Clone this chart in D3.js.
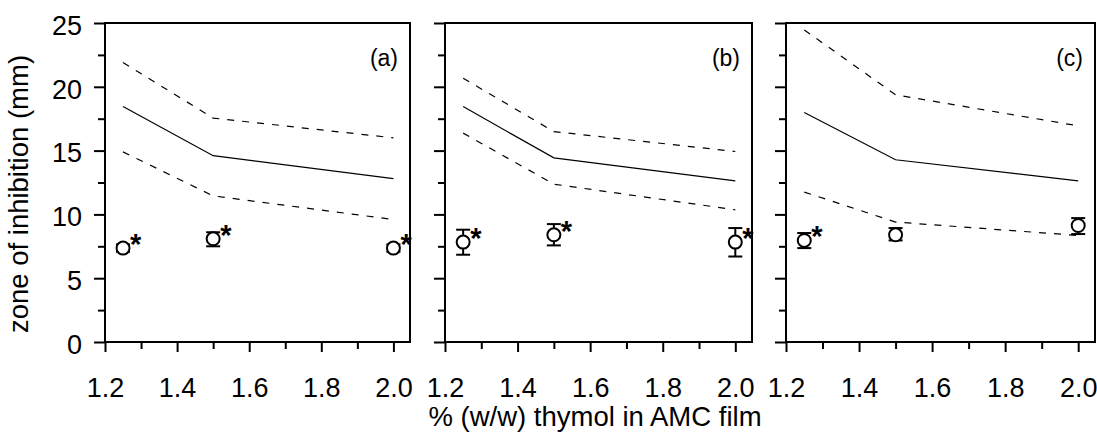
<!DOCTYPE html>
<html><head><meta charset="utf-8">
<script src="https://cdn.jsdelivr.net/npm/d3@7"></script>
<style>body{margin:0;background:#fff} svg text{font-family:"Liberation Sans",Arial,sans-serif;fill:#000}</style>
</head><body><svg id="chart" width="1097" height="437"></svg>
<script>
// ---- data ----
const xValues = [1.25, 1.5, 2.0];
const panelLabels = ["(a)", "(b)", "(c)"];
const xTickLabels = ["1.2", "1.4", "1.6", "1.8", "2.0"];
const yTickLabels = ["0", "5", "10", "15", "20", "25"];
const meanA = [18.45, 14.6, 12.8];
const upperA = [21.9, 17.55, 16.0];
const lowerA = [14.9, 11.45, 9.6];
const pointA = [7.36, 8.09, 7.36];
const errLowA = [7.07, 7.5, 7.07];
const errHighA = [7.65, 8.6, 7.65];
const starA = [true, true, true];
const meanB = [18.45, 14.43, 12.63];
const upperB = [20.67, 16.49, 14.93];
const lowerB = [16.37, 12.37, 10.36];
const pointB = [7.83, 8.4, 7.83];
const errLowB = [6.84, 7.57, 6.7];
const errHighB = [8.8, 9.24, 8.93];
const starB = [true, true, true];
const meanC = [17.98, 14.28, 12.63];
const upperC = [24.46, 19.37, 16.94];
const lowerC = [11.75, 9.4, 8.35];
const pointC = [7.96, 8.4, 9.13];
const errLowC = [7.36, 7.96, 8.46];
const errHighC = [8.54, 8.93, 9.71];
const starC = [true, false, false];

const panels = [
  {label: panelLabels[0], mean: meanA, upper: upperA, lower: lowerA, pt: pointA, lo: errLowA, hi: errHighA, star: starA, x0: 105, x1: 410},
  {label: panelLabels[1], mean: meanB, upper: upperB, lower: lowerB, pt: pointB, lo: errLowB, hi: errHighB, star: starB, x0: 445, x1: 752},
  {label: panelLabels[2], mean: meanC, upper: upperC, lower: lowerC, pt: pointC, lo: errLowC, hi: errHighC, star: starC, x0: 786, x1: 1095}
];

const svg = d3.select("#chart");
const plotTop = 23, plotBottom = 342;
const y = d3.scaleLinear().domain([0, 25]).range([plotBottom, plotTop]);

panels.forEach((p, i) => {
  const x = d3.scaleLinear().domain([1.2, 2.046]).range([p.x0, p.x1]);
  const g = svg.append("g");

  const yMinor = d3.axisLeft(y).tickValues([2.5, 7.5, 12.5, 17.5, 22.5]).tickSize(7).tickFormat("");
  const xMinor = d3.axisBottom(x).tickValues([1.3, 1.5, 1.7, 1.9]).tickSize(7).tickFormat("");
  g.append("g").attr("transform", `translate(${p.x0},0)`).call(yMinor);
  g.append("g").attr("transform", `translate(0,${plotBottom})`).call(xMinor);

  const yAxis = d3.axisLeft(y).tickValues([0,5,10,15,20,25]).tickSize(11).tickPadding(12)
      .tickFormat((d, k) => i === 0 ? yTickLabels[k] : "");
  const xAxis = d3.axisBottom(x).tickValues([1.2,1.4,1.6,1.8,2.0]).tickSize(10).tickPadding(26)
      .tickFormat((d, k) => xTickLabels[k]);
  const ya = g.append("g").attr("transform", `translate(${p.x0},0)`).call(yAxis);
  g.append("g").attr("transform", `translate(0,${plotBottom})`).call(xAxis);
  ya.selectAll(".tick text").attr("dy", "0.42em");
  g.selectAll(".domain").remove();
  g.selectAll(".tick line").attr("stroke", "#000").attr("stroke-width", 2);
  g.selectAll(".tick text").style("font-size", "27px");

  g.append("rect").attr("x", p.x0).attr("y", plotTop).attr("width", p.x1 - p.x0).attr("height", plotBottom - plotTop)
    .attr("fill", "none").attr("stroke", "#000").attr("stroke-width", 2);

  const line = d3.line().x((d, k) => x(xValues[k])).y(d => y(d));
  g.append("path").attr("d", line(p.mean)).attr("fill", "none").attr("stroke", "#000").attr("stroke-width", 1.2);
  g.append("path").attr("d", line(p.upper)).attr("fill", "none").attr("stroke", "#000").attr("stroke-width", 1.2).attr("stroke-dasharray", "7,8");
  g.append("path").attr("d", line(p.lower)).attr("fill", "none").attr("stroke", "#000").attr("stroke-width", 1.2).attr("stroke-dasharray", "7,8");

  xValues.forEach((xv, k) => {
    const cx = x(xv);
    g.append("line").attr("x1", cx).attr("x2", cx).attr("y1", y(p.lo[k])).attr("y2", y(p.hi[k])).attr("stroke", "#000").attr("stroke-width", 2);
    [p.lo[k], p.hi[k]].forEach(v => g.append("line").attr("x1", cx - 7).attr("x2", cx + 7).attr("y1", y(v)).attr("y2", y(v)).attr("stroke", "#000").attr("stroke-width", 2));
    g.append("circle").attr("cx", cx).attr("cy", y(p.pt[k])).attr("r", 6.5).attr("fill", "#fff").attr("stroke", "#000").attr("stroke-width", 2);
    if (p.star[k]) {
      g.append("text").attr("x", cx + 7).attr("y", y(p.pt[k]) + 6).style("font-size", "29px").style("font-weight", "bold").text("*");
    }
  });

  g.append("text").attr("x", p.x1 - 12).attr("y", 66).attr("text-anchor", "end").style("font-size", "23px").text(p.label);
});

svg.append("text").attr("transform", "translate(28,194) rotate(-90)").attr("text-anchor", "middle")
  .style("font-size", "27.5px").text("zone of inhibition (mm)");
svg.append("text").attr("x", 595).attr("y", 426).attr("text-anchor", "middle")
  .style("font-size", "27.5px").text("% (w/w) thymol in AMC film");
</script></body></html>
